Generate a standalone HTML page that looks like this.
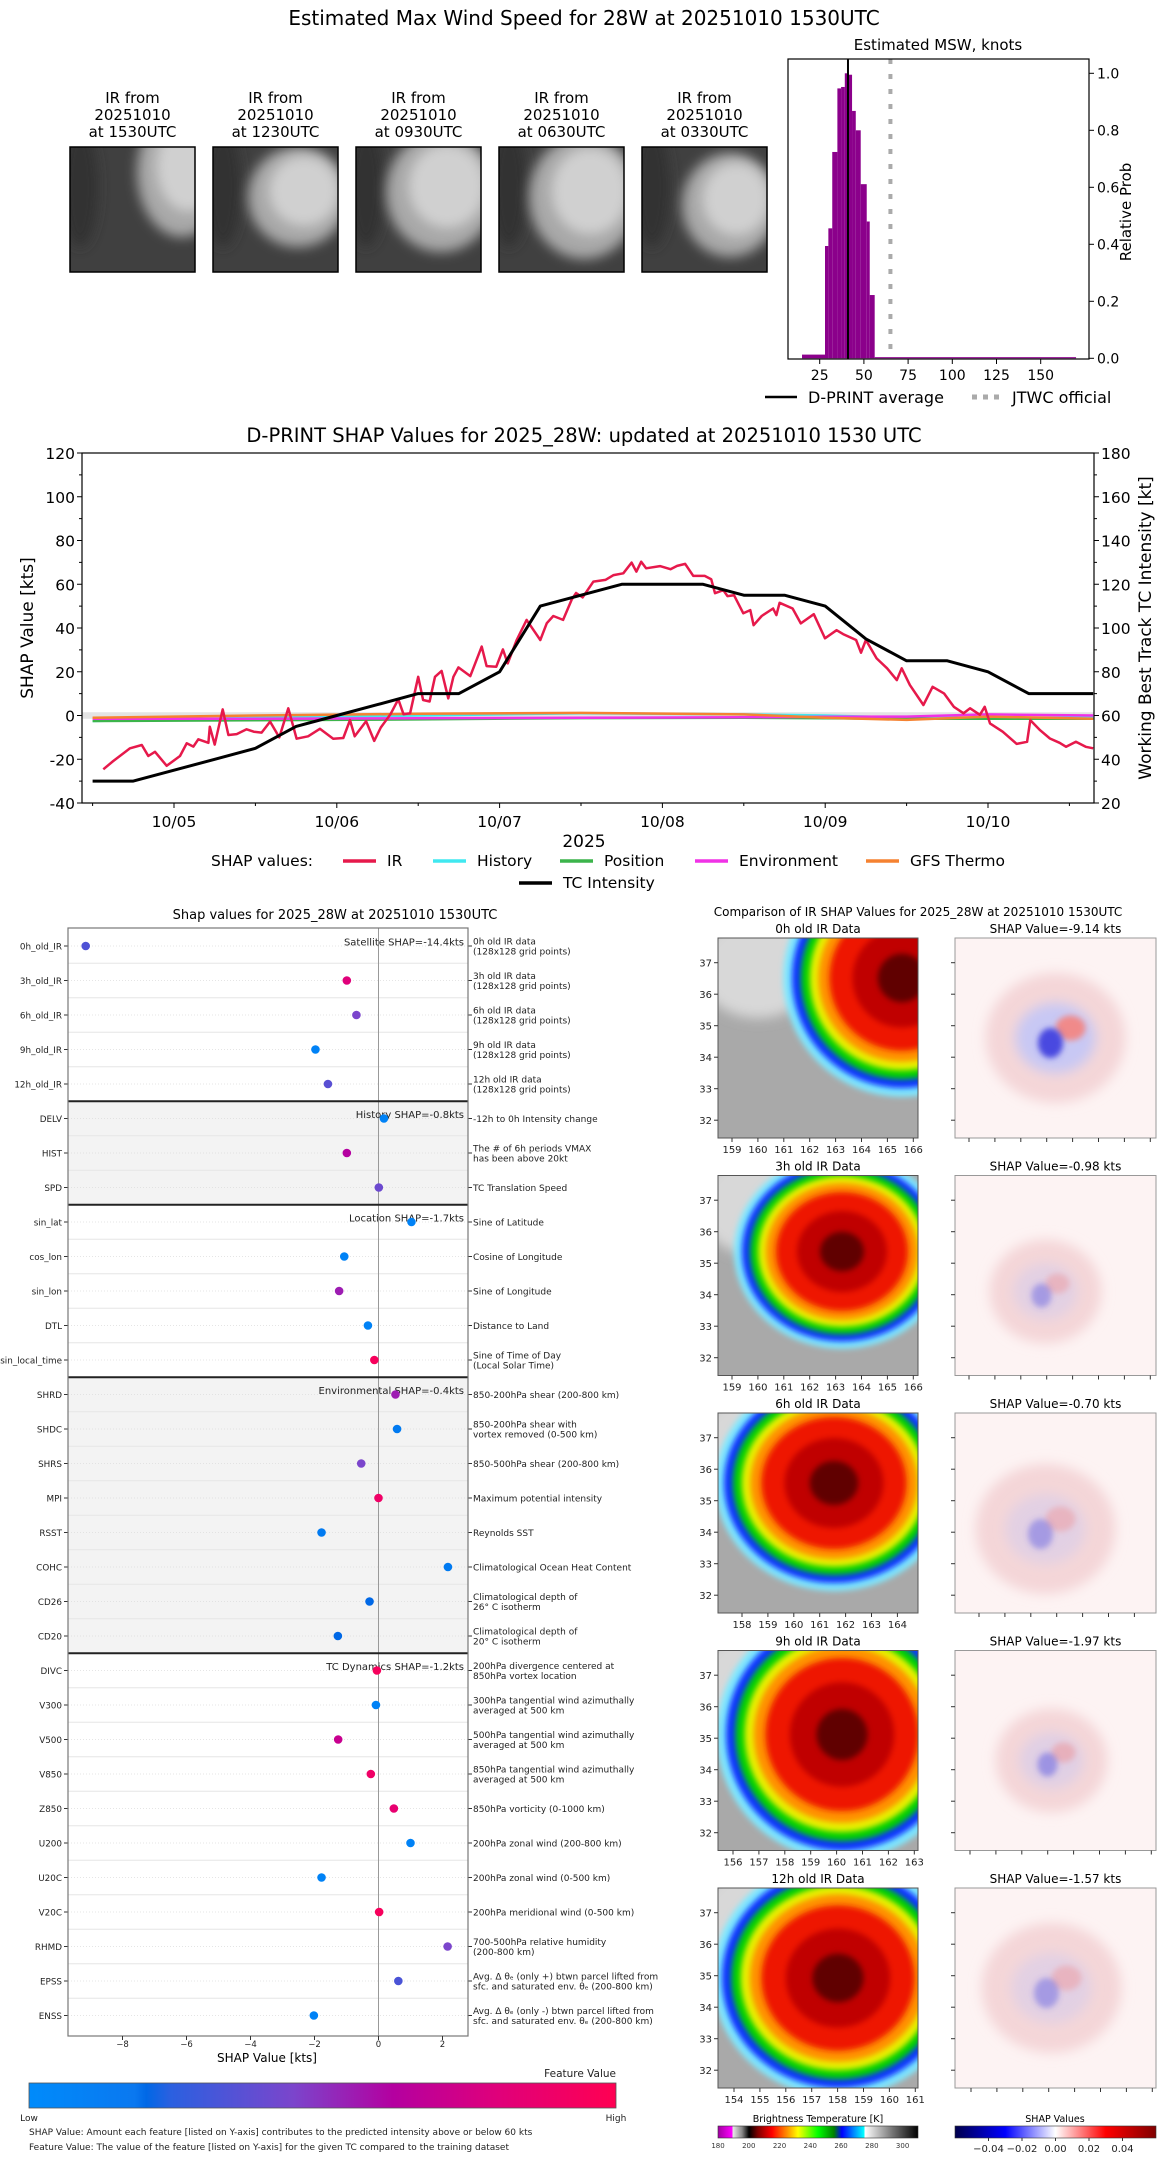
<!DOCTYPE html>
<html><head><meta charset="utf-8">
<style>
html,body{margin:0;padding:0;background:#fff;}
svg{display:block;font-family:"DejaVu Sans","Liberation Sans",sans-serif;}
</style></head>
<body>
<svg id="root" width="1168" height="2158" viewBox="0 0 1168 2158" xmlns="http://www.w3.org/2000/svg">
<defs>
<filter id="blur3" x="-50%" y="-50%" width="200%" height="200%"><feGaussianBlur stdDeviation="3"/></filter>
<filter id="blur6" x="-50%" y="-50%" width="200%" height="200%"><feGaussianBlur stdDeviation="6"/></filter>
<filter id="blur2" x="-50%" y="-50%" width="200%" height="200%"><feGaussianBlur stdDeviation="1.5"/></filter>
<linearGradient id="fvGrad" x1="0" x2="1" y1="0" y2="0">
<stop offset="0" stop-color="#008bfb"/><stop offset="0.18" stop-color="#0a78f0"/><stop offset="0.2" stop-color="#0068e6"/><stop offset="0.24" stop-color="#2a60e0"/><stop offset="0.45" stop-color="#7b45cc"/><stop offset="0.62" stop-color="#b400a0"/><stop offset="0.8" stop-color="#e0007a"/><stop offset="1" stop-color="#ff0052"/>
</linearGradient>
<linearGradient id="btGrad" x1="0" x2="1" y1="0" y2="0">
<stop offset="0" stop-color="#a000a0"/><stop offset="0.07" stop-color="#ff00ff"/><stop offset="0.075" stop-color="#e8e8e8"/><stop offset="0.12" stop-color="#888"/><stop offset="0.155" stop-color="#000"/><stop offset="0.2" stop-color="#800000"/><stop offset="0.27" stop-color="#ff0000"/><stop offset="0.35" stop-color="#ff9900"/><stop offset="0.4" stop-color="#ffff00"/><stop offset="0.5" stop-color="#00ff00"/><stop offset="0.58" stop-color="#008000"/><stop offset="0.62" stop-color="#0000ff"/><stop offset="0.73" stop-color="#00ffff"/><stop offset="0.735" stop-color="#ffffff"/><stop offset="0.87" stop-color="#777"/><stop offset="1" stop-color="#000"/>
</linearGradient>
<linearGradient id="shGrad" x1="0" x2="1" y1="0" y2="0">
<stop offset="0" stop-color="#00004c"/><stop offset="0.25" stop-color="#0000ff"/><stop offset="0.5" stop-color="#ffffff"/><stop offset="0.75" stop-color="#ff0000"/><stop offset="1" stop-color="#800000"/>
</linearGradient>
</defs>
</svg>
<script>
// ---------- DATA ----------
const thumbLabels = ["1530UTC","1230UTC","0930UTC","0630UTC","0330UTC"];
const binEdges = [15,28,29.9,32.1,35,37.1,39.2,41.3,43.3,45.4,48.2,51.6,53.3,56.1,170];
const binProbs = [0.013,0.394,0.456,0.724,0.947,0.952,1.0,0.995,0.868,0.80,0.611,0.48,0.222,0.004];
const histTicks = [25,50,75,100,125,150];
const probTicks = [0,0.2,0.4,0.6,0.8,1.0];
const dprintAvg = 41;
const jtwcOfficial = 65;

const dayLabels = ["10/05","10/06","10/07","10/08","10/09","10/10"];
const leftTicks = [-40,-20,0,20,40,60,80,100,120];
const rightTicks = [20,40,60,80,100,120,140,160,180];
const tcTimes = [-0.5,-0.25,0,0.25,0.5,0.75,1,1.25,1.5,1.75,2,2.25,2.5,2.75,3,3.25,3.5,3.75,4,4.25,4.5,4.75,5,5.25,5.5,5.646];
const tcIntensity = [30,30,35,40,45,55,60,65,70,70,80,110,115,120,120,120,115,115,110,95,85,85,80,70,70,70];
const irTimes = [-0.434,-0.373,-0.27,-0.198,-0.158,-0.117,-0.045,0.037,0.078,0.119,0.149,0.211,0.22,0.25,0.299,0.334,0.385,0.446,0.49,0.538,0.59,0.647,0.702,0.753,0.824,0.896,0.978,1.04,1.081,1.11,1.18,1.23,1.27,1.33,1.378,1.41,1.45,1.5,1.53,1.57,1.603,1.644,1.685,1.716,1.747,1.82,1.89,1.92,1.98,2.02,2.05,2.105,2.166,2.25,2.29,2.33,2.39,2.443,2.47,2.51,2.576,2.65,2.7,2.76,2.811,2.84,2.87,2.9,2.985,3.05,3.09,3.14,3.19,3.26,3.3,3.323,3.374,3.4,3.44,3.497,3.54,3.56,3.61,3.68,3.7,3.72,3.8,3.85,3.93,3.999,4.07,4.11,4.19,4.22,4.25,4.316,4.38,4.44,4.47,4.52,4.603,4.66,4.73,4.79,4.85,4.89,4.95,4.98,5.012,5.09,5.176,5.24,5.26,5.32,5.38,5.44,5.48,5.54,5.6,5.646];
const irValues = [-24.6,-20.8,-15,-13.5,-18.5,-16.6,-23,-18.5,-12.7,-14.2,-10.9,-12.5,-5.1,-13.3,2.8,-8.9,-8.5,-6.3,-7.4,-7.8,-2.8,-10,3.3,-10.6,-9.5,-6.1,-10.6,-10.3,-2.1,-9.5,-2.6,-11.6,-5.5,0.6,7.4,0.6,1,17.7,7.1,6.4,17.7,20.4,7.8,17.7,22,18,31.5,22.6,22.3,30.2,23.8,34.5,43.7,34.5,42.2,45.5,43.7,53,56,54,61.2,62,64.2,65,69.9,65.8,70.3,67.3,68.3,66.9,68.4,69.3,63.8,63.8,62.3,55.9,57.3,54.6,55,46.7,48.2,41.3,45.5,48.9,45.9,51.5,48.9,42.1,46.3,35.3,39,37.2,34.5,28.7,34.5,26.1,21.6,16.2,21.6,13.9,4.8,13.1,10.1,4,1,3.3,0.3,4,-3.6,-7.4,-13,-12,-2.1,-6.7,-10.5,-12.5,-14.3,-12,-14.3,-15];
const smallTimes = [-0.5,0.5,1.5,2.5,3.5,4,4.5,5,5.646];
const historyVals = [-2.5,-1,0,1,0.5,0,-1,-1,-1];
const positionVals = [-2.5,-2.2,-1.8,-1.2,-1,-1.3,-1.5,-1.5,-1.5];
const environmentVals = [-1.5,-1.5,-1.3,-1,-0.8,-0.6,-0.5,0.5,0];
const gfsVals = [-1,0,0.8,1.2,0.5,-1,-2,-0.5,-1.5];

const featNames = ["0h_old_IR","3h_old_IR","6h_old_IR","9h_old_IR","12h_old_IR","DELV","HIST","SPD","sin_lat","cos_lon","sin_lon","DTL","sin_local_time","SHRD","SHDC","SHRS","MPI","RSST","COHC","CD26","CD20","DIVC","V300","V500","V850","Z850","U200","U20C","V20C","RHMD","EPSS","ENSS"];
const featShap = [-9.15,-0.99,-0.69,-1.97,-1.58,0.17,-0.99,0.01,1.03,-1.07,-1.23,-0.33,-0.13,0.53,0.58,-0.54,0,-1.78,2.17,-0.28,-1.27,-0.05,-0.08,-1.26,-0.24,0.48,1.0,-1.78,0.02,2.16,0.62,-2.02];
const featValue = [0.36,0.8,0.45,0.05,0.38,0.05,0.62,0.42,0.05,0.05,0.55,0.05,0.95,0.55,0.1,0.45,0.9,0.1,0.1,0.2,0.2,0.95,0.05,0.7,0.9,0.85,0.05,0.05,0.95,0.45,0.35,0.05];
const featDesc = [["0h old IR data","(128x128 grid points)"],["3h old IR data","(128x128 grid points)"],["6h old IR data","(128x128 grid points)"],["9h old IR data","(128x128 grid points)"],["12h old IR data","(128x128 grid points)"],["-12h to 0h Intensity change"],["The # of 6h periods VMAX","has been above 20kt"],["TC Translation Speed"],["Sine of Latitude"],["Cosine of Longitude"],["Sine of Longitude"],["Distance to Land"],["Sine of Time of Day","(Local Solar Time)"],["850-200hPa shear (200-800 km)"],["850-200hPa shear with","vortex removed (0-500 km)"],["850-500hPa shear (200-800 km)"],["Maximum potential intensity"],["Reynolds SST"],["Climatological Ocean Heat Content"],["Climatological depth of","26° C isotherm"],["Climatological depth of","20° C isotherm"],["200hPa divergence centered at","850hPa vortex location"],["300hPa tangential wind azimuthally","averaged at 500 km"],["500hPa tangential wind azimuthally","averaged at 500 km"],["850hPa tangential wind azimuthally","averaged at 500 km"],["850hPa vorticity (0-1000 km)"],["200hPa zonal wind (200-800 km)"],["200hPa zonal wind (0-500 km)"],["200hPa meridional wind (0-500 km)"],["700-500hPa relative humidity","(200-800 km)"],["Avg. Δ θₑ (only +) btwn parcel lifted from","sfc. and saturated env. θₑ (200-800 km)"],["Avg. Δ θₑ (only -) btwn parcel lifted from","sfc. and saturated env. θₑ (200-800 km)"]];
const groupLabels = ["Satellite SHAP=-14.4kts","History SHAP=-0.8kts","Location SHAP=-1.7kts","Environmental SHAP=-0.4kts","TC Dynamics SHAP=-1.2kts"];
const groupStart = [0,5,8,13,21];
const shapTicks = [-8,-6,-4,-2,0,2];

const irRowHours = ["0h","3h","6h","9h","12h"];
const irRowShap = ["-9.14","-0.98","-0.70","-1.97","-1.57"];
const irLonStart = [159,159,158,156,154];
const latTicks = [37,36,35,34,33,32];
const btTicks = [180,200,220,240,260,280,300];
const shCbTicks = [-0.04,-0.02,0.00,0.02,0.04];

// ---------- HELPERS ----------
const NS="http://www.w3.org/2000/svg";
const root=document.getElementById('root');
function mk(tag,attrs,parent){const e=document.createElementNS(NS,tag);for(const k in attrs)e.setAttribute(k,attrs[k]);(parent||root).appendChild(e);return e;}
function txt(s,attrs,parent){const e=mk('text',attrs,parent);e.textContent=s;return e;}

// ---------- TOP SECTION ----------
let t=txt("Estimated Max Wind Speed for 28W at 20251010 1530UTC",{x:584,y:25,'font-size':20,'text-anchor':'middle'});



const thumbBlobs=[[112,25,45,65],[85,50,50,50],[85,45,55,60],[85,50,55,62],[88,58,48,52]];
thumbLabels.forEach((lab,i)=>{
  const x=70+143*i, y=147;
  const g=mk('g',{});
  
  
  const cp=mk('clipPath',{id:'thc'+i},g); mk('rect',{x:x,y:y,width:125,height:125},cp);
  const gi=mk('g',{'clip-path':'url(#thc'+i+')'},g);
  mk('rect',{x:x,y:y,width:125,height:125,fill:'#404040'},gi);
  mk('ellipse',{cx:x+10,cy:y+40,rx:18,ry:60,fill:'#333',filter:'url(#blur6)'},gi);
  const b=thumbBlobs[i];
  mk('ellipse',{cx:x+b[0],cy:y+b[1],rx:b[2],ry:b[3],fill:'#a8a8a8',filter:'url(#blur6)'},gi);
  mk('ellipse',{cx:x+b[0]+6,cy:y+b[1]-6,rx:b[2]*0.7,ry:b[3]*0.7,fill:'#d0d0d0',filter:'url(#blur6)'},gi);
  mk('rect',{x:x,y:y,width:125,height:125,fill:'none',stroke:'#000','stroke-width':1.5},g);
  const cx=x+62.5;
  txt("IR from",{x:cx,y:103,'font-size':15,'text-anchor':'middle'},g);
  txt("20251010",{x:cx,y:120,'font-size':15,'text-anchor':'middle'},g);
  txt("at "+lab,{x:cx,y:137,'font-size':15,'text-anchor':'middle'},g);
});

// histogram
const hx=k=>775.5+1.768*k, hy=p=>358.3-285*p;
const hg=mk('g',{});


binProbs.forEach((p,i)=>{
  const r=mk('rect',{x:hx(binEdges[i]),y:hy(p),width:hx(binEdges[i+1])-hx(binEdges[i]),height:hy(0)-hy(p),fill:'#8b008b'},hg);
  
  
});
let l=mk('line',{x1:hx(dprintAvg),x2:hx(dprintAvg),y1:59,y2:359,stroke:'#000','stroke-width':2},hg);


l=mk('line',{x1:hx(jtwcOfficial),x2:hx(jtwcOfficial),y1:59,y2:359,stroke:'#aaa','stroke-width':4,'stroke-dasharray':'5,10'},hg);


mk('rect',{x:788,y:59,width:301,height:300,fill:'none',stroke:'#000','stroke-width':1.2},hg);
histTicks.forEach(v=>{mk('line',{x1:hx(v),x2:hx(v),y1:359,y2:364,stroke:'#000'},hg);txt(String(v),{x:hx(v),y:380,'font-size':14,'text-anchor':'middle'},hg);});
probTicks.forEach(v=>{mk('line',{x1:1089,x2:1094,y1:hy(v),y2:hy(v),stroke:'#000'},hg);txt(v.toFixed(1),{x:1097,y:hy(v)+5,'font-size':14},hg);});
t=txt("Relative Prob",{x:0,y:0,'font-size':15,'text-anchor':'middle',transform:'translate(1131,212) rotate(-90)'},hg);


t=txt("Estimated MSW, knots",{x:938,y:50,'font-size':15,'text-anchor':'middle'},hg);


const lg=mk('g',{});


mk('line',{x1:765,x2:797,y1:397,y2:397,stroke:'#000','stroke-width':2.5},lg);
txt("D-PRINT average",{x:808,y:403,'font-size':16},lg);
mk('line',{x1:972,x2:1001,y1:397,y2:397,stroke:'#aaa','stroke-width':5,'stroke-dasharray':'5,6'},lg);
txt("JTWC official",{x:1012,y:403,'font-size':16},lg);

// ---------- SHAP TIME SERIES ----------
const sx=d=>174+162.8*d, sy=v=>715.5-2.1875*v, sr=k=>sy(k-60);
const tg=mk('g',{});


t=txt("D-PRINT SHAP Values for 2025_28W: updated at 20251010 1530 UTC",{x:584,y:442,'font-size':19.5,'text-anchor':'middle'},tg);


mk('rect',{x:82,y:sy(1.5),width:1012,height:sy(-1.5)-sy(1.5),fill:'#e4e4e4'},tg);
function poly(ts,vs,yf,color,w,name){
  const pts=ts.map((d,i)=>sx(d).toFixed(1)+','+yf(vs[i]).toFixed(1)).join(' ');
  const p=mk('polyline',{points:pts,fill:'none',stroke:color,'stroke-width':w,'stroke-linejoin':'round'},tg);
  
  
}
poly(smallTimes,historyVals,sy,'#40e8f0',2.5,'history-line');
poly(smallTimes,positionVals,sy,'#3cb44b',2.5,'position-line');
poly(smallTimes,environmentVals,sy,'#f032e6',2.5,'environment-line');
poly(smallTimes,gfsVals,sy,'#f58231',2.5,'gfs-thermo-line');
poly(irTimes,irValues,sy,'#e6194b',2.5,'ir-line');
poly(tcTimes,tcIntensity,sr,'#000',3,'tc-intensity-line');
mk('rect',{x:82,y:453,width:1012,height:350,fill:'none',stroke:'#000','stroke-width':1.2},tg);
leftTicks.forEach(v=>{mk('line',{x1:77,x2:82,y1:sy(v),y2:sy(v),stroke:'#000'},tg);txt(String(v),{x:75,y:sy(v)+6,'font-size':15.5,'text-anchor':'end'},tg);});
leftTicks.slice(0,-1).forEach(v=>{mk('line',{x1:79,x2:82,y1:sy(v+10),y2:sy(v+10),stroke:'#000'},tg);});
rightTicks.forEach(v=>{mk('line',{x1:1094,x2:1099,y1:sr(v),y2:sr(v),stroke:'#000'},tg);txt(String(v),{x:1101,y:sr(v)+6,'font-size':15.5},tg);});
rightTicks.slice(0,-1).forEach(v=>{mk('line',{x1:1094,x2:1097,y1:sr(v+10),y2:sr(v+10),stroke:'#000'},tg);});
dayLabels.forEach((d,i)=>{mk('line',{x1:sx(i),x2:sx(i),y1:803,y2:808,stroke:'#000'},tg);txt(d,{x:sx(i),y:827,'font-size':15.5,'text-anchor':'middle'},tg);});
[-0.5,0.5,1.5,2.5,3.5,4.5,5.5].forEach(d=>mk('line',{x1:sx(d),x2:sx(d),y1:803,y2:806,stroke:'#000'},tg));
txt("2025",{x:584,y:847,'font-size':17,'text-anchor':'middle'},tg);
txt("SHAP Value [kts]",{x:0,y:0,'font-size':17,'text-anchor':'middle',transform:'translate(33,628) rotate(-90)'},tg);
txt("Working Best Track TC Intensity [kt]",{x:0,y:0,'font-size':17,'text-anchor':'middle',transform:'translate(1151,628) rotate(-90)'},tg);
const leg=mk('g',{});


txt("SHAP values:",{x:211,y:866,'font-size':15.5},leg);
[["IR","#e6194b",343],["History","#40e8f0",433],["Position","#3cb44b",560],["Environment","#f032e6",695],["GFS Thermo","#f58231",866]].forEach(e=>{
  mk('line',{x1:e[2],x2:e[2]+33,y1:861,y2:861,stroke:e[1],'stroke-width':3.5},leg);
  txt(e[0],{x:e[2]+44,y:866,'font-size':15.5},leg);
});
mk('line',{x1:519,x2:552,y1:883,y2:883,stroke:'#000','stroke-width':3.5},leg);
txt("TC Intensity",{x:563,y:888,'font-size':15.5},leg);

// ---------- FEATURE SHAP PANEL ----------
const fx=v=>378.5+32*v, fy=i=>946+34.5*i;
const fg=mk('g',{});


txt("Shap values for 2025_28W at 20251010 1530UTC",{x:335,y:919,'font-size':13,'text-anchor':'middle'},fg);
mk('rect',{x:68,y:fy(5)-17.25,width:400,height:34.5*3,fill:'#f3f3f3'},fg);
mk('rect',{x:68,y:fy(13)-17.25,width:400,height:34.5*8,fill:'#f3f3f3'},fg);
featNames.forEach((n,i)=>{
  if(i>0) mk('line',{x1:68,x2:468,y1:fy(i)-17.25,y2:fy(i)-17.25,stroke:'#e6e6e6','stroke-width':1},fg);
  mk('line',{x1:68,x2:468,y1:fy(i),y2:fy(i),stroke:'#ddd','stroke-width':0.8,'stroke-dasharray':'1,2'},fg);
});
mk('line',{x1:fx(0),x2:fx(0),y1:928,y2:2036,stroke:'#999','stroke-width':1},fg);
[5,8,13,21].forEach(i=>mk('line',{x1:68,x2:468,y1:fy(i)-17.25,y2:fy(i)-17.25,stroke:'#222','stroke-width':2},fg));
function fcol(v){
  const st=[[0,[0,139,251]],[0.2,[0,104,230]],[0.45,[123,69,204]],[0.62,[180,0,160]],[0.8,[224,0,122]],[1,[255,0,82]]];
  for(let k=1;k<st.length;k++){if(v<=st[k][0]){const a=st[k-1],b=st[k],f=(v-a[0])/(b[0]-a[0]);return 'rgb('+a[1].map((c,j)=>Math.round(c+(b[1][j]-c)*f)).join(',')+')';}}
  return 'rgb(255,0,82)';
}
featNames.forEach((n,i)=>{
  const y=fy(i);
  mk('line',{x1:64,x2:68,y1:y,y2:y,stroke:'#333'},fg);
  txt(n,{x:62,y:y+3.5,'font-size':8.8,'text-anchor':'end',fill:'#222'},fg);
  mk('line',{x1:468,x2:472,y1:y,y2:y,stroke:'#333'},fg);
  const d=featDesc[i];
  if(d.length===1) txt(d[0],{x:473,y:y+3.5,'font-size':9,fill:'#222'},fg);
  else {txt(d[0],{x:473,y:y-1.5,'font-size':9,fill:'#222'},fg);txt(d[1],{x:473,y:y+8.5,'font-size':9,fill:'#222'},fg);}
});
groupLabels.forEach((g,k)=>{txt(g,{x:464,y:fy(groupStart[k])-0.5,'font-size':10,'text-anchor':'end',fill:'#222'},fg);});
featNames.forEach((n,i)=>{
  const c=mk('circle',{cx:fx(featShap[i]),cy:fy(i),r:4.3,fill:fcol(featValue[i])},fg);
  
  
});
mk('rect',{x:68,y:928,width:400,height:1108,fill:'none',stroke:'#777','stroke-width':1.2},fg);
shapTicks.forEach(v=>{mk('line',{x1:fx(v),x2:fx(v),y1:2036,y2:2040,stroke:'#333'},fg);txt(v===0?'0':(v<0?'−'+(-v):String(v)),{x:fx(v),y:2047,'font-size':8.5,'text-anchor':'middle',fill:'#222'},fg);});
txt("SHAP Value [kts]",{x:267,y:2062,'font-size':12,'text-anchor':'middle'},fg);
const cb=mk('g',{});


mk('rect',{x:29,y:2083,width:587,height:25,fill:'url(#fvGrad)',stroke:'#555','stroke-width':0.8},cb);
txt("Feature Value",{x:616,y:2077,'font-size':10.5,'text-anchor':'end',fill:'#222'},cb);
txt("Low",{x:29,y:2121,'font-size':9,'text-anchor':'middle',fill:'#222'},cb);
txt("High",{x:616,y:2121,'font-size':9,'text-anchor':'middle',fill:'#222'},cb);
txt("SHAP Value: Amount each feature [listed on Y-axis] contributes to the predicted intensity above or below 60 kts",{x:29,y:2135,'font-size':9,fill:'#222'},cb);
txt("Feature Value: The value of the feature [listed on Y-axis] for the given TC compared to the training dataset",{x:29,y:2150,'font-size':9,fill:'#222'},cb);

// ---------- IR COMPARISON PANELS ----------
const rg=mk('g',{});


txt("Comparison of IR SHAP Values for 2025_28W at 20251010 1530UTC",{x:918,y:916,'font-size':12,'text-anchor':'middle'},rg);
const stormC=[[0.92,0.2,0.55,0.55],[0.62,0.38,0.5,0.45],[0.58,0.35,0.55,0.5],[0.62,0.42,0.58,0.58],[0.6,0.45,0.58,0.55]];
const shapBlobs=[[0.5,0.5,0.25,1],[0.45,0.58,0.2,0.4],[0.45,0.58,0.25,0.4],[0.48,0.55,0.2,0.45],[0.48,0.5,0.25,0.4]];
irRowHours.forEach((h,k)=>{
  const top=938+237.5*k, L=718, W=200, S=955;
  const g=mk('g',{},rg);
  
  
  txt(h+" old IR Data",{x:L+100,y:top-5,'font-size':12,'text-anchor':'middle'},g);
  txt("SHAP Value="+irRowShap[k]+" kts",{x:S+100.5,y:top-5,'font-size':12,'text-anchor':'middle'},g);
  const cp=mk('clipPath',{id:'irc'+k},g); mk('rect',{x:L,y:top,width:W,height:W},cp);
  const gi=mk('g',{'clip-path':'url(#irc'+k+')'},g);
  mk('rect',{x:L,y:top,width:W,height:W,fill:'#a9a9a9'},gi);
  mk('ellipse',{cx:L+40,cy:top+30,rx:60,ry:50,fill:'#d8d8d8',filter:'url(#blur6)'},gi);
  const s=stormC[k], cx=L+s[0]*W, cy=top+s[1]*W, rx=s[2]*W, ry=s[3]*W;
  [[1.08,'#7fe8ff'],[1.0,'#1030ff'],[0.92,'#00d000'],[0.84,'#e8f000'],[0.76,'#ff9000'],[0.66,'#ee1800'],[0.45,'#c00000'],[0.22,'#600000']].forEach(q=>{
    mk('ellipse',{cx:cx,cy:cy,rx:rx*q[0],ry:ry*q[0],fill:q[1],filter:'url(#blur3)'},gi);
  });
  mk('rect',{x:L,y:top,width:W,height:W,fill:'none',stroke:'#555','stroke-width':1},g);
  latTicks.forEach((v,j)=>{const yy=top+24.7+31.5*j;mk('line',{x1:L-4,x2:L,y1:yy,y2:yy,stroke:'#333'},g);txt(String(v),{x:L-6,y:yy+4,'font-size':10,'text-anchor':'end',fill:'#222'},g);});
  const off=[14,14,24,15,16][k];
  for(let j=0;j<8;j++){const xx=L+off+25.9*j; if(xx>L+W+1)break; mk('line',{x1:xx,x2:xx,y1:top+W,y2:top+W+4,stroke:'#333'},g);txt(String(irLonStart[k]+j),{x:xx,y:top+W+15,'font-size':10,'text-anchor':'middle',fill:'#222'},g);}
  const cp2=mk('clipPath',{id:'shc'+k},g); mk('rect',{x:S,y:top,width:201,height:W},cp2);
  const gs=mk('g',{'clip-path':'url(#shc'+k+')'},g);
  mk('rect',{x:S,y:top,width:201,height:W,fill:'#fdf3f3'},gs);
  const b=shapBlobs[k], bx=S+b[0]*201, by=top+b[1]*W, br=b[2]*W, it=b[3];
  mk('ellipse',{cx:bx,cy:by,rx:br*1.4,ry:br*1.3,fill:'#f4d6d8',filter:'url(#blur6)'},gs);
  mk('ellipse',{cx:bx,cy:by,rx:br*0.8,ry:br*0.7,fill:'#c8c8f4','fill-opacity':it,filter:'url(#blur6)'},gs);
  mk('ellipse',{cx:bx+br*0.3,cy:by-br*0.2,rx:br*0.3,ry:br*0.25,fill:'#f08a8a','fill-opacity':it,filter:'url(#blur3)'},gs);
  mk('ellipse',{cx:bx-br*0.1,cy:by+br*0.1,rx:br*0.25,ry:br*0.3,fill:'#4a4ae0','fill-opacity':it,filter:'url(#blur3)'},gs);
  mk('rect',{x:S,y:top,width:201,height:W,fill:'none',stroke:'#999','stroke-width':1},g);
  latTicks.forEach((v,j)=>{const yy=top+24.7+31.5*j;mk('line',{x1:S-4,x2:S,y1:yy,y2:yy,stroke:'#333'},g);});
  for(let j=0;j<8;j++){const xx=S+off+25.9*j; if(xx>S+201)break; mk('line',{x1:xx,x2:xx,y1:top+W,y2:top+W+4,stroke:'#333'},g);}
});
const bc=mk('g',{},rg);


txt("Brightness Temperature [K]",{x:818,y:2122,'font-size':9.5,'text-anchor':'middle'},bc);
mk('rect',{x:718,y:2126,width:200,height:12,fill:'url(#btGrad)',stroke:'#333','stroke-width':0.6},bc);
btTicks.forEach(v=>{const xx=718+(v-180)/130*200;txt(String(v),{x:xx,y:2148,'font-size':7,'text-anchor':'middle',fill:'#333'},bc);});
const scb=mk('g',{},rg);


txt("SHAP Values",{x:1055,y:2122,'font-size':9.5,'text-anchor':'middle'},scb);
mk('rect',{x:955,y:2126,width:201,height:12,fill:'url(#shGrad)',stroke:'#333','stroke-width':0.6},scb);
shCbTicks.forEach(v=>{const xx=1055.5+v/0.06*100.5;mk('line',{x1:xx,x2:xx,y1:2138,y2:2141,stroke:'#333'},scb);txt((v<0?'−':'')+Math.abs(v).toFixed(2),{x:xx,y:2152,'font-size':10,'text-anchor':'middle',fill:'#222'},scb);});
</script>
</body></html>
